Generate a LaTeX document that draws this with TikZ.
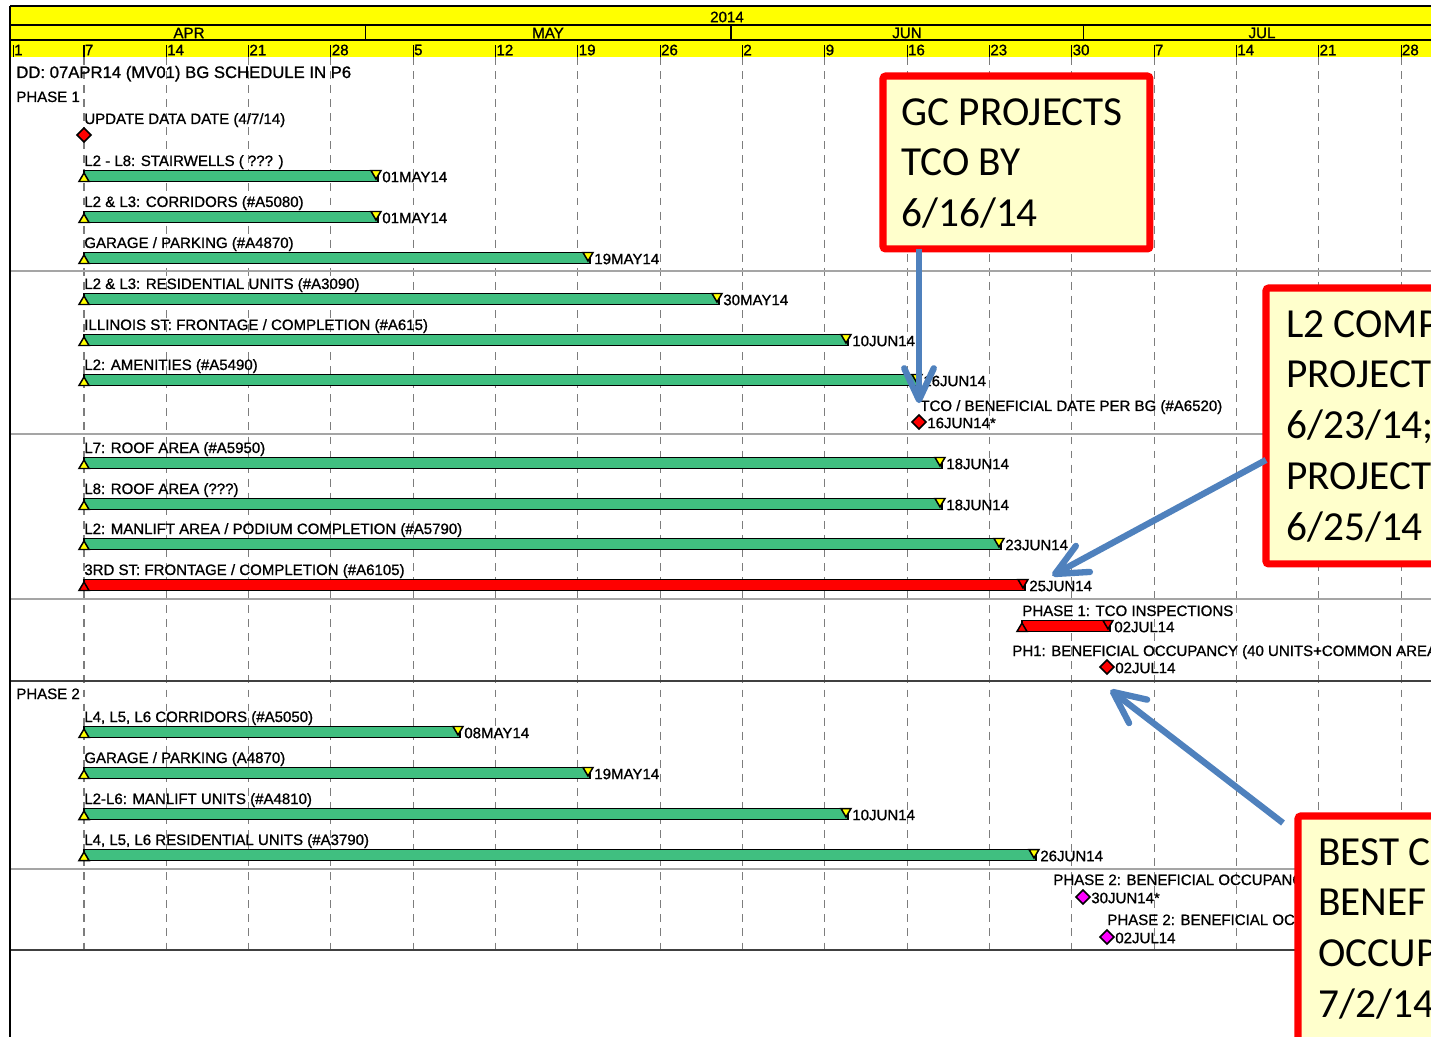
\documentclass[tikz,border=0pt]{standalone}
\usepackage{fontspec}
\setmainfont{Liberation Sans}
\newfontfamily\lblfont[FakeBold=1]{Liberation Sans}
\newfontfamily\callfont{Carlito}
\usetikzlibrary{calc, positioning}

\definecolor{hdryellow}{RGB}{255,255,0}
\definecolor{bargreen}{RGB}{64,191,128}
\definecolor{barred}{RGB}{255,0,0}
\definecolor{mstmagenta}{RGB}{255,0,255}
\definecolor{gridgray}{RGB}{125,125,125}
\definecolor{sepgray}{RGB}{165,165,165}
\definecolor{notefill}{RGB}{255,255,204}
\definecolor{arrowblue}{RGB}{79,129,189}

\tikzset{
	lbl/.style={font=\lblfont\fontsize{8.55}{9}\selectfont, inner sep=0pt, anchor=base west},
	hdr/.style={font=\lblfont\fontsize{8.6}{9}\selectfont, inner sep=0pt},
	gridln/.style={gridgray, line width=0.6pt, dash pattern=on 4.5pt off 3.5pt},
	sepln/.style={sepgray, line width=0.8pt},
	barln/.style={black, line width=0.85pt},
	note/.style={draw=barred, fill=notefill, line width=4pt, rounded corners=1.5pt, inner sep=0pt, outer sep=0pt, anchor=north west},
	notetxt/.style={font=\callfont\fontsize{23.5}{28.9}\selectfont, align=left, inner sep=0pt, anchor=north west},
	callarrow/.style={arrowblue, line width=3.6pt},
	callhead/.style={arrowblue, line width=3.6pt, line cap=round, line join=round}
}

% activity bar: name, y, start, finish, bar colour, tip colour, label, finish date
\newcommand{\gbar}[8]{%
	\draw[barln, fill=#5] (#3,#2-5.5) rectangle (#4,#2+5.5);
	\draw[barln, fill=#6] (#3-5,#2+5.5) -- (#3+5,#2+5.5) -- (#3,#2-3) -- cycle;
	\draw[barln, fill=#6] (#4-7,#2-5.5) -- (#4+3,#2-5.5) -- (#4-2,#2+3) -- cycle;
	\node[lbl] (#1-lbl) at (#3,#2-10) {#7};
	\node[lbl, anchor=west] (#1-fin) at (#4+4,#2+1) {#8};
}
% milestone: name, x, y, colour, date
\newcommand{\mstone}[5]{%
	\draw[barln, fill=#4] (#2-7,#3) -- (#2,#3-7) -- (#2+7,#3) -- (#2,#3+7) -- cycle;
	\node[lbl, anchor=west] (#1-fin) at (#2+8,#3+1) {#5};
}
% open arrow head at #1, pointing away from #2
\newcommand{\openhead}[2]{%
	\draw[callhead] ($(#1)!0.7cm!25:(#2)$) -- (#1) -- ($(#1)!0.7cm!-25:(#2)$);
}

\begin{document}
\begin{tikzpicture}[x=0.02cm, y=-0.02cm]
		\useasboundingbox (0,0) rectangle (1431,1037);
		\clip (0,0) rectangle (1431,1037);
		\fill[white] (0,0) rectangle (1431,1037);
		
		% timescale
		\fill[hdryellow] (10,7) rectangle (1431,57);
		\draw[black, line width=1.4pt] (10,6) -- (1431,6);
		\draw[black, line width=0.6pt] (10,25) -- (1431,25);
		\draw[black, line width=0.6pt] (10,40) -- (1431,40);
		\foreach \mx in {365.5,731,1083.5}
			\draw[black, line width=0.6pt] (\mx,25) -- (\mx,40);
		\node[hdr] (year) at (727,17) {2014};
		\node[hdr] (apr) at (189,33) {APR};
		\node[hdr] (may) at (548,33) {MAY};
		\node[hdr] (jun) at (907,33) {JUN};
		\node[hdr] (jul) at (1262,33) {JUL};
		\draw[black, line width=0.6pt] (13.4,45) -- (13.4,57);
		\node[hdr, anchor=west] (wk0) at (13.9,50) {1};
		\foreach \dn [count=\k from 0] in {7,14,21,28,5,12,19,26,2,9,16,23,30,7,14,21,28} {
			\pgfmathsetmacro\dx{84+\k*82.32}
			\draw[black, line width=0.6pt] (\dx,45) -- (\dx,57);
			\node[hdr, anchor=west] (wk\dn-\k) at (\dx+0.5,50) {\dn};
			\draw[gridln] (\dx,57) -- (\dx,950);
		}
		
		% frame and row separators
		\foreach \sy in {271,434,599,869}
			\draw[sepln] (10,\sy) -- (1431,\sy);
		\draw[black!75, line width=0.9pt] (10,681) -- (1431,681);
		\draw[black!75, line width=0.9pt] (10,950) -- (1431,950);
		\draw[black, line width=1.6pt] (10,6) -- (10,1037);
		
		% phase 1
		\node[lbl, font=\lblfont\fontsize{9.5}{10}\selectfont] (dd) at (16,78) {DD: 07APR14 (MV01) BG SCHEDULE IN P6};
		\node[lbl] (ph1) at (16,102) {PHASE 1};
		\node[lbl] (upd) at (84,124) {UPDATE DATA DATE (4/7/14)};
		\mstone{upd}{84}{135}{barred}{}
		\gbar{stair}{176}{84}{378}{bargreen}{hdryellow}{L2 - L8: STAIRWELLS ( ??? )}{01MAY14}
		\gbar{corr}{217}{84}{378}{bargreen}{hdryellow}{L2 \& L3: CORRIDORS (\#A5080)}{01MAY14}
		\gbar{garage}{258}{84}{590}{bargreen}{hdryellow}{GARAGE / PARKING (\#A4870)}{19MAY14}
		\gbar{resid}{299}{84}{719}{bargreen}{hdryellow}{L2 \& L3: RESIDENTIAL UNITS (\#A3090)}{30MAY14}
		\gbar{illinois}{340}{84}{848}{bargreen}{hdryellow}{ILLINOIS ST: FRONTAGE / COMPLETION (\#A615)}{10JUN14}
		\gbar{amen}{380}{84}{919}{bargreen}{hdryellow}{L2: AMENITIES (\#A5490)}{16JUN14}
		\node[lbl] (tco) at (920,411) {TCO / BENEFICIAL DATE PER BG (\#A6520)};
		\mstone{tco}{919}{422}{barred}{16JUN14*}
		\gbar{roof7}{463}{84}{942}{bargreen}{hdryellow}{L7: ROOF AREA (\#A5950)}{18JUN14}
		\gbar{roof8}{504}{84}{942}{bargreen}{hdryellow}{L8: ROOF AREA (???)}{18JUN14}
		\gbar{manlift}{544}{84}{1001}{bargreen}{hdryellow}{L2: MANLIFT AREA / PODIUM COMPLETION (\#A5790)}{23JUN14}
		\gbar{third}{585}{84}{1025}{barred}{barred}{3RD ST: FRONTAGE / COMPLETION (\#A6105)}{25JUN14}
		\gbar{insp}{626}{1022}{1110}{barred}{barred}{PHASE 1: TCO INSPECTIONS}{02JUL14}
		\node[lbl] (occ1) at (1012,656) {PH1: BENEFICIAL OCCUPANCY (40 UNITS+COMMON AREA};
		\mstone{occ1}{1107}{667}{barred}{02JUL14}
		
		% phase 2
		\node[lbl] (ph2) at (16,699) {PHASE 2};
		\gbar{corr2}{732}{84}{460}{bargreen}{hdryellow}{L4, L5, L6 CORRIDORS (\#A5050)}{08MAY14}
		\gbar{garage2}{773}{84}{590}{bargreen}{hdryellow}{GARAGE / PARKING (A4870)}{19MAY14}
		\gbar{manlift2}{814}{84}{848}{bargreen}{hdryellow}{L2-L6: MANLIFT UNITS (\#A4810)}{10JUN14}
		\gbar{resid2}{855}{84}{1036}{bargreen}{hdryellow}{L4, L5, L6 RESIDENTIAL UNITS (\#A3790)}{26JUN14}
		\node[lbl] (occ2a) at (1053,885) {PHASE 2: BENEFICIAL OCCUPANCY};
		\mstone{occ2a}{1083}{897}{mstmagenta}{30JUN14*}
		\node[lbl] (occ2b) at (1107,925) {PHASE 2: BENEFICIAL OCCUPANCY};
		\mstone{occ2b}{1107}{937}{mstmagenta}{02JUL14}
		
		% callouts
		\node[note, minimum width=5.34cm, minimum height=3.46cm] (gcbox) at (883,76) {};
		\node[notetxt] (gctxt) at (901,98) {GC PROJECTS\\TCO BY\\6/16/14};
		\node[note, minimum width=6cm, minimum height=5.52cm] (l2box) at (1266,288) {};
		\node[notetxt] (l2txt) at (1286,310) {L2 COMP\\PROJECT\\6/23/14;\\PROJECT\\6/25/14};
		\node[note, minimum width=6cm, minimum height=6cm] (bestbox) at (1298,816) {};
		\node[notetxt] (besttxt) at (1318,838) {BEST C\\BENEF\\OCCUP\\7/2/14};
		
		\coordinate (tcotip) at (919,400);
		\coordinate (l2tip) at (1055,574);
		\coordinate (occtip) at (1113,692);
		\coordinate (gctail) at (gcbox.south -| tcotip);
		\coordinate (l2tail) at ([yshift=-0.68cm]l2box.west);
		\coordinate (besttail) at ([shift={(-0.3cm,-0.14cm)}]bestbox.north west);
		\draw[callarrow] (gctail) -- (tcotip);
		\openhead{tcotip}{gctail}
		\draw[callarrow] (l2tail) -- (l2tip);
		\openhead{l2tip}{l2tail}
		\draw[callarrow] (besttail) -- (occtip);
		\openhead{occtip}{besttail}
\end{tikzpicture}
\end{document}
